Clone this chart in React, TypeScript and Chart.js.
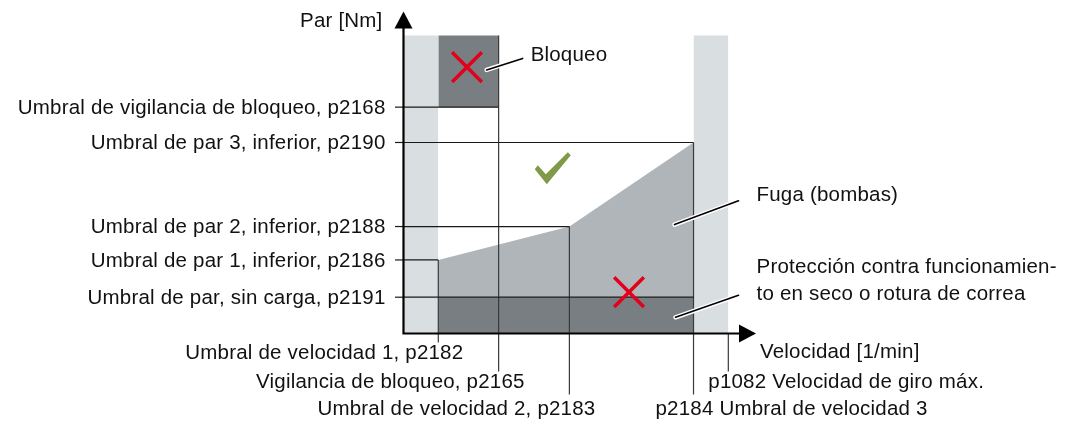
import React, { useEffect, useRef } from "react";
import { Chart, registerables } from "chart.js";

Chart.register(...registerables);

// Speed thresholds [1/min]: p2182, p2165, p2183, p2184, p1082
const speedKeys = ["p2182", "p2165", "p2183", "p2184", "p1082"];
const speedValues = [300, 820, 1430, 2500, 2800];
const speedLabels = [
  "Umbral de velocidad 1, p2182",
  "Vigilancia de bloqueo, p2165",
  "Umbral de velocidad 2, p2183",
  "p2184 Umbral de velocidad 3",
  "p1082 Velocidad de giro máx.",
];

// Torque thresholds [Nm]: p2191, p2186, p2188, p2190, p2168
const torqueKeys = ["p2191", "p2186", "p2188", "p2190", "p2168"];
const torqueValues = [19, 38.5, 56, 100, 118.5];
const torqueLabels = [
  "Umbral de par, sin carga, p2191",
  "Umbral de par 1, inferior, p2186",
  "Umbral de par 2, inferior, p2188",
  "Umbral de par 3, inferior, p2190",
  "Umbral de vigilancia de bloqueo, p2168",
];

const bandTop = 156;
const xMax = 3030;
const yMax = 168;

const COLORS = {
  band: "#d9dee1",
  dark: "#787e82",
  mid: "#b0b5b9",
  red: "#e2001a",
  green: "#7f9a48",
  line: "#1a1a1a",
  vline: "#3a3a3a",
};

const FONT = '20.5px "Liberation Sans", Arial, sans-serif';

const S = (k: string) => speedValues[speedKeys.indexOf(k)];
const T = (k: string) => torqueValues[torqueKeys.indexOf(k)];

export default function App() {
  const ref = useRef<HTMLCanvasElement | null>(null);

  useEffect(() => {
    document.body.style.margin = "0";
    const canvas = ref.current!;
    const common = { pointRadius: 0, borderWidth: 0, tension: 0 };

    const hLineEnds: Record<string, number> = {
      p2191: S("p2184"),
      p2186: S("p2182"),
      p2188: S("p2183"),
      p2190: S("p2184"),
      p2168: S("p2165"),
    };
    const vLineTops: Record<string, number> = {
      p2182: T("p2186"),
      p2165: bandTop,
      p2183: T("p2188"),
      p2184: T("p2190"),
      p1082: 0,
    };

    const datasets: any[] = [
      {
        ...common,
        data: [{ x: 0, y: bandTop }, { x: S("p2182"), y: bandTop }],
        fill: "origin",
        backgroundColor: COLORS.band,
        order: 20,
      },
      {
        ...common,
        data: [{ x: S("p2184"), y: bandTop }, { x: S("p1082"), y: bandTop }],
        fill: "origin",
        backgroundColor: COLORS.band,
        order: 20,
      },
      {
        ...common,
        data: [{ x: S("p2182"), y: bandTop }, { x: S("p2165"), y: bandTop }],
        fill: { value: T("p2168") },
        backgroundColor: COLORS.dark,
        order: 19,
      },
      {
        ...common,
        data: [
          { x: S("p2182"), y: T("p2186") },
          { x: S("p2183"), y: T("p2188") },
          { x: S("p2184"), y: T("p2190") },
        ],
        fill: "origin",
        backgroundColor: COLORS.mid,
        order: 18,
      },
      {
        ...common,
        data: [{ x: S("p2182"), y: T("p2191") }, { x: S("p2184"), y: T("p2191") }],
        fill: "origin",
        backgroundColor: COLORS.dark,
        order: 17,
      },
    ];

    torqueKeys.forEach((k) => {
      datasets.push({
        pointRadius: 0,
        borderWidth: 1.2,
        borderColor: COLORS.line,
        fill: false,
        clip: false,
        data: [{ x: 0, y: T(k) }, { x: hLineEnds[k], y: T(k) }],
        order: 5,
      });
    });
    speedKeys.forEach((k) => {
      if (vLineTops[k] <= 0) return;
      datasets.push({
        pointRadius: 0,
        borderWidth: 1.2,
        borderColor: COLORS.vline,
        fill: false,
        clip: false,
        data: [{ x: S(k), y: vLineTops[k] }, { x: S(k), y: 0 }],
        order: 5,
      });
    });

    // Red crosses (not permitted regions)
    datasets.push({
      type: "scatter",
      data: [
        { x: 547, y: 139.5 },
        { x: 1944, y: 21.7 },
      ],
      pointStyle: "crossRot",
      pointRadius: 21,
      borderColor: COLORS.red,
      borderWidth: 3.5,
      backgroundColor: COLORS.red,
      clip: false,
      order: 1,
    });

    const overlay = {
      id: "overlay",
      afterDatasetsDraw(chart: any) {
        const ctx = chart.ctx as CanvasRenderingContext2D;
        const xs = chart.scales.x;
        const ys = chart.scales.y;
        const px = (v: number) => xs.getPixelForValue(v);
        const py = (v: number) => ys.getPixelForValue(v);
        const x0 = px(0);
        const y0 = py(0);
        const area = chart.chartArea;
        ctx.save();

        // tick extensions on y
        ctx.strokeStyle = COLORS.line;
        ctx.lineWidth = 1.2;
        torqueKeys.forEach((k) => {
          ctx.beginPath();
          ctx.moveTo(x0 - 8.5, py(T(k)));
          ctx.lineTo(x0, py(T(k)));
          ctx.stroke();
        });
        // vertical extensions below x axis
        const vExt: Record<string, number> = { p2182: 9, p2165: 38, p2183: 61, p2184: 61, p1082: 38 };
        ctx.strokeStyle = COLORS.vline;
        speedKeys.forEach((k) => {
          ctx.beginPath();
          ctx.moveTo(px(S(k)), y0);
          ctx.lineTo(px(S(k)), y0 + vExt[k]);
          ctx.stroke();
        });

        // Axes
        ctx.strokeStyle = "#000";
        ctx.fillStyle = "#000";
        ctx.lineWidth = 2.2;
        ctx.beginPath();
        ctx.moveTo(x0, y0 + 1);
        ctx.lineTo(x0, area.top + 14);
        ctx.moveTo(x0 - 1, y0);
        ctx.lineTo(area.right - 15, y0);
        ctx.stroke();
        ctx.beginPath();
        ctx.moveTo(x0, area.top - 1);
        ctx.lineTo(x0 - 9, area.top + 16);
        ctx.lineTo(x0 + 9, area.top + 16);
        ctx.closePath();
        ctx.fill();
        ctx.beginPath();
        ctx.moveTo(area.right + 1, y0);
        ctx.lineTo(area.right - 16, y0 - 9);
        ctx.lineTo(area.right - 16, y0 + 9);
        ctx.closePath();
        ctx.fill();

        // Check mark
        const cx = px(1287);
        const cy = py(85.5);
        ctx.fillStyle = COLORS.green;
        ctx.beginPath();
        const pts = [[-15, -5], [-7, 4], [15, -18], [18, -15], [-6, 14], [-18, -1]];
        pts.forEach(([a, b], i) => (i ? ctx.lineTo(cx + a, cy + b) : ctx.moveTo(cx + a, cy + b)));
        ctx.closePath();
        ctx.fill();

        // Leader lines (white halo + black)
        const leaders = [
          [px(S("p2165")) - 12, py(138), px(S("p2165")) + 24, py(144)],
          [px(S("p2184")) - 19, py(57), px(S("p2184")) + 45, py(69.5)],
          [px(S("p2184")) - 18, py(8.5), px(S("p2184")) + 45, py(20)],
        ];
        leaders.forEach(([a, b, c, d]) => {
          ctx.lineCap = "round";
          ctx.strokeStyle = "#fff";
          ctx.lineWidth = 4.5;
          ctx.beginPath();
          ctx.moveTo(a, b);
          ctx.lineTo(c, d);
          ctx.stroke();
          ctx.strokeStyle = "#000";
          ctx.lineWidth = 1.6;
          ctx.beginPath();
          ctx.moveTo(a, b);
          ctx.lineTo(c, d);
          ctx.stroke();
        });

        // Text
        ctx.font = FONT;
        (ctx as any).letterSpacing = "0.2px";
        ctx.fillStyle = "#111";
        ctx.textBaseline = "middle";
        ctx.textAlign = "right";
        torqueKeys.forEach((k, i) => {
          ctx.fillText(torqueLabels[i], x0 - 18, py(T(k)) + 1);
        });
        ctx.fillText("Par [Nm]", x0 - 21, 21);

        const bottomY: Record<string, number> = { p2182: 20, p2165: 49, p2183: 76, p2184: 76, p1082: 49 };
        speedKeys.forEach((k, i) => {
          const x = px(S(k));
          const y = y0 + bottomY[k];
          if (k === "p2184" || k === "p1082") {
            ctx.textAlign = "left";
            ctx.fillText(speedLabels[i], x + (k === "p1082" ? -20 : -38), y);
          } else {
            ctx.textAlign = "right";
            ctx.fillText(speedLabels[i], x + (k === "p2182" ? 25 : 26), y);
          }
        });
        ctx.textAlign = "left";
        ctx.fillText("Velocidad [1/min]", area.right + 5, y0 + 19);
        ctx.fillText("Bloqueo", px(S("p2165")) + 32, py(145.5));
        ctx.fillText("Fuga (bombas)", px(S("p2184")) + 63, py(72.5));
        ctx.fillText("Protección contra funcionamien-", px(S("p2184")) + 63, py(34.5));
        ctx.fillText("to en seco o rotura de correa", px(S("p2184")) + 63, py(20.5));
        ctx.restore();
      },
    };

    const chart = new Chart(canvas, {
      type: "line",
      data: { datasets },
      options: {
        animation: false,
        responsive: false,
        events: [],
        layout: { autoPadding: false, padding: { left: 403.5, right: 318, top: 12.6, bottom: 87.5 } },
        plugins: {
          legend: { display: false },
          tooltip: { enabled: false },
          filler: { drawTime: "beforeDatasetDraw" } as any,
        },
        scales: {
          x: { type: "linear", min: 0, max: xMax, display: false },
          y: { type: "linear", min: 0, max: yMax, display: false },
        },
      },
      plugins: [overlay],
    });
    return () => chart.destroy();
  }, []);

  return (
    <div style={{ width: 1073, height: 421, background: "#fff" }}>
      <canvas ref={ref} width={1073} height={421} style={{ display: "block" }} />
    </div>
  );
}
